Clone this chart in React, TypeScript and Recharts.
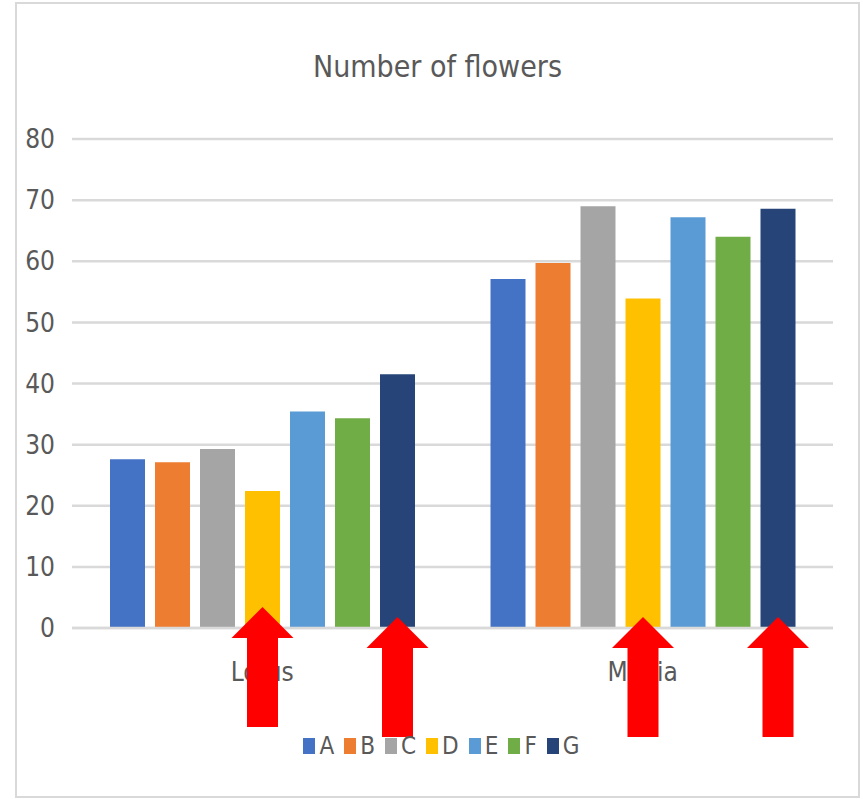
import { BarChart, Bar, XAxis, YAxis, CartesianGrid, Legend, LabelList } from "recharts";

const categories = ["Lotus", "Media"];
const seriesKeys = ["A", "B", "C", "D", "E", "F", "G"];
const seriesColors = ["#4472C4", "#ED7D31", "#A5A5A5", "#FFC000", "#5B9BD5", "#70AD47", "#264478"];
const valuesA = [27.6, 57.1];
const valuesB = [27.1, 59.7];
const valuesC = [29.3, 69.0];
const valuesD = [22.4, 53.9];
const valuesE = [35.4, 67.2];
const valuesF = [34.3, 64.0];
const valuesG = [41.5, 68.6];
const yTicks = [0, 10, 20, 30, 40, 50, 60, 70, 80];

// series that get a red arrow under them
const arrowSeries = ["D", "G"];

const allValues = [valuesA, valuesB, valuesC, valuesD, valuesE, valuesF, valuesG];
const data = categories.map((name, i) => {
  const row: Record<string, string | number> = { name };
  seriesKeys.forEach((k, s) => (row[k] = allValues[s][i]));
  return row;
});

const FONT = "'Liberation Sans Narrow', 'DejaVu Sans Condensed', 'Open Sans', sans-serif";
const TEXT = "#595959";
const GRID = "#d9d9d9";

const arrow = (key: string) => (props: any) => {
  const vb = props.viewBox || {};
  const x = Number(props.x ?? vb.x);
  const y = Number(props.y ?? vb.y);
  const w = Number(props.width ?? vb.width);
  const h = Number(props.height ?? vb.height);
  const cx = x + w / 2;
  const tip = y + h - (key === "D" && props.index === 0 ? 21 : 11);
  const pts = [
    [cx, tip],
    [cx + 31, tip + 31],
    [cx + 15.5, tip + 31],
    [cx + 15.5, tip + 120],
    [cx - 15.5, tip + 120],
    [cx - 15.5, tip + 31],
    [cx - 31, tip + 31],
  ]
    .map((p) => p.join(","))
    .join(" ");
  return <polygon points={pts} fill="#ff0000" />;
};

const renderLegend = () => (
  <div
    style={{
      display: "flex",
      justifyContent: "center",
      alignItems: "center",
      height: 34,
      paddingLeft: 8,
      fontFamily: FONT,
      fontSize: 24,
      color: TEXT,
    }}
  >
    {seriesKeys.map((k, i) => (
      <div
        key={k}
        style={{ display: "flex", alignItems: "center", marginRight: i === seriesKeys.length - 1 ? 0 : 10 }}
      >
        <span style={{ width: 12, height: 16, background: seriesColors[i], marginRight: 4 }} />
        <span>{k}</span>
      </div>
    ))}
  </div>
);

export default function App() {
  return (
    <div
      style={{
        position: "absolute",
        left: 15,
        top: 2,
        width: 845,
        height: 796,
        border: `2px solid ${GRID}`,
        boxSizing: "border-box",
        background: "#fff",
        fontFamily: FONT,
      }}
    >
      <div
        style={{
          position: "absolute",
          left: 0,
          top: 45,
          width: "100%",
          textAlign: "center",
          fontSize: 30,
          lineHeight: "36px",
          color: TEXT,
        }}
      >
        Number of flowers
      </div>
      <BarChart
        width={841}
        height={792}
        data={data}
        margin={{ top: 135, right: 25, bottom: 108, left: 0 }}
        barSize={35}
        barGap={10}
      >
        <CartesianGrid vertical={false} stroke={GRID} strokeWidth={2.5} />
        <XAxis
          dataKey="name"
          height={60}
          axisLine={{ stroke: GRID, strokeWidth: 2.5 }}
          tickLine={false}
          tickSize={0}
          tickMargin={35}
          tick={{ fill: TEXT, fontSize: 26, fontFamily: FONT }}
        />
        <YAxis
          width={55}
          domain={[0, 80]}
          ticks={yTicks}
          axisLine={false}
          tickLine={false}
          tickSize={0}
          tickMargin={17}
          tick={{ fill: TEXT, fontSize: 26, fontFamily: FONT }}
        />
        <Legend
          layout="horizontal"
          verticalAlign="middle"
          align="center"
          wrapperStyle={{ top: 725, left: 0, width: 841, height: 34 }}
          content={renderLegend}
        />
        {seriesKeys.map((k, i) => (
          <Bar key={k} dataKey={k} fill={seriesColors[i]} isAnimationActive={false}>
            {arrowSeries.includes(k) && <LabelList dataKey={k} content={arrow(k)} />}
          </Bar>
        ))}
      </BarChart>
    </div>
  );
}
